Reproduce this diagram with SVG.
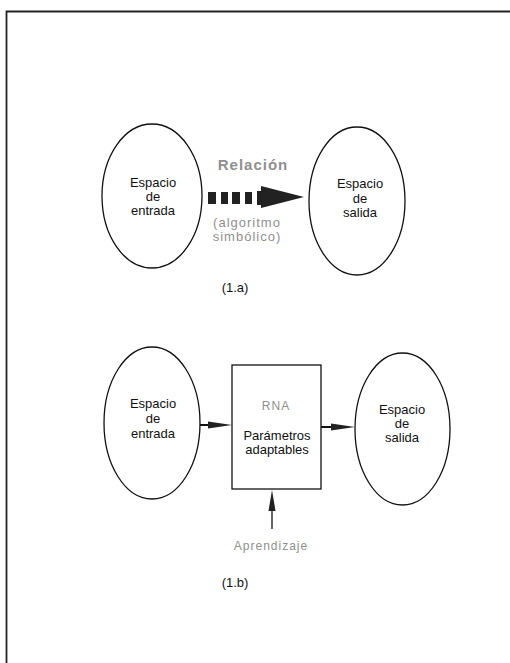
<svg xmlns="http://www.w3.org/2000/svg" width="510" height="663" viewBox="0 0 510 663">
  <style>
    .node { fill: none; stroke: #111; stroke-width: 1.3; }
    .lbl { font-family: "Liberation Sans", Arial, sans-serif; font-size: 13px; fill: #111; text-anchor: middle; }
    .grey { font-family: "Liberation Sans", Arial, sans-serif; fill: #8f8f8f; text-anchor: middle; letter-spacing: 1px; }
    .wire { stroke: #111; stroke-width: 2; fill: none; }
    .head { fill: #222; }
  </style>
  <rect x="0" y="0" width="510" height="663" fill="#fff"/>

  <!-- page frame -->
  <path d="M6.5 663 V11.5 H510" fill="none" stroke="#222" stroke-width="1.8"/>

  <!-- (1.a) -->
  <g id="entrada-a">
    <ellipse class="node" cx="152" cy="196" rx="50" ry="72"/>
    <text class="lbl" x="153" y="187">Espacio</text>
    <text class="lbl" x="153" y="201">de</text>
    <text class="lbl" x="153" y="215">entrada</text>
  </g>
  <g id="salida-a">
    <ellipse class="node" cx="357" cy="201" rx="48" ry="74"/>
    <text class="lbl" x="360" y="188">Espacio</text>
    <text class="lbl" x="360" y="203">de</text>
    <text class="lbl" x="360" y="217">salida</text>
  </g>
  <g id="relacion">
    <text class="grey" x="253" y="170" font-size="15" font-weight="bold">Relación</text>
    <text class="grey" x="247" y="227" font-size="13">(algoritmo</text>
    <text class="grey" x="247" y="241" font-size="13">simbólico)</text>
  </g>
  <text class="lbl" x="235" y="292" font-size="12">(1.a)</text>

  <!-- (1.b) -->
  <g id="entrada-b">
    <ellipse class="node" cx="152" cy="423" rx="48" ry="76"/>
    <text class="lbl" x="153" y="408">Espacio</text>
    <text class="lbl" x="153" y="423">de</text>
    <text class="lbl" x="153" y="438">entrada</text>
  </g>
  <g id="rna">
    <rect class="node" x="232" y="365" width="89" height="124"/>
    <text class="grey" x="276" y="410" font-size="12">RNA</text>
    <text class="lbl" x="277" y="440">Parámetros</text>
    <text class="lbl" x="277" y="454">adaptables</text>
  </g>
  <g id="salida-b">
    <ellipse class="node" cx="402.5" cy="429" rx="47.5" ry="76"/>
    <text class="lbl" x="402" y="414">Espacio</text>
    <text class="lbl" x="402" y="428">de</text>
    <text class="lbl" x="402" y="442">salida</text>
  </g>
  <g id="aprendizaje">
    <text class="grey" x="271" y="550" font-size="12">Aprendizaje</text>
  </g>
  <text class="lbl" x="235" y="587" font-size="12">(1.b)</text>

  <!-- connectors -->
  <g id="connectors">
    <!-- symbolic relation: dashed block arrow -->
    <g class="head">
      <rect x="208" y="192" width="8" height="12"/>
      <rect x="221" y="192" width="7" height="12"/>
      <rect x="232" y="192" width="8" height="12"/>
      <rect x="245" y="192" width="7" height="12"/>
      <rect x="257" y="191" width="6" height="14"/>
      <polygon points="261,186 304,197 261,208"/>
    </g>
    <!-- entrada -> RNA -->
    <line class="wire" x1="200" y1="425" x2="222" y2="425"/>
    <polygon class="head" points="208,421.5 232,425 208,428.5"/>
    <!-- RNA -> salida -->
    <line class="wire" x1="321" y1="427" x2="344" y2="427"/>
    <polygon class="head" points="331,423.5 355,427 331,430.5"/>
    <!-- aprendizaje -> RNA -->
    <line x1="272" y1="529" x2="272" y2="500" stroke="#111" stroke-width="1.3"/>
    <polygon class="head" points="268.5,511 272,490 275.5,511"/>
  </g>
</svg>
